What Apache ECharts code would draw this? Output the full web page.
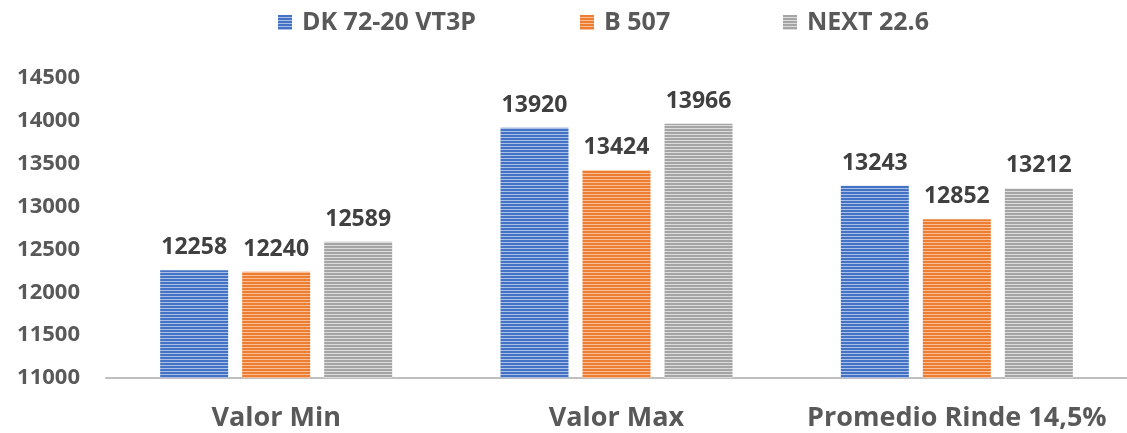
<!DOCTYPE html>
<html>
<head>
<meta charset="utf-8">
<script src="https://cdn.jsdelivr.net/npm/echarts@6/dist/echarts.min.js"></script>
<style>
  html, body { margin: 0; padding: 0; background: #fff; }
  #chart { width: 1127px; height: 433px; }
</style>
</head>
<body>
<div id="chart"></div>
<script>
var categories = ["Valor Min", "Valor Max", "Promedio Rinde 14,5%"];
var seriesNames = ["DK 72-20 VT3P", "B 507", "NEXT 22.6"];
var dkValues = [12258, 13920, 13243];
var bValues = [12240, 13424, 12852];
var nextValues = [12589, 13966, 13212];

var FONT = "'Open Sans', sans-serif";
var legendLeft = [273, 575, 778];

// horizontal stripes like the excel fill
var stripes = function (dark, light) {
  var c = document.createElement("canvas");
  c.width = 4;
  c.height = 3;
  var ctx = c.getContext("2d");
  ctx.fillStyle = light;
  ctx.fillRect(0, 0, 4, 3);
  ctx.fillStyle = dark;
  ctx.fillRect(0, 0, 4, 2);
  return { image: c, repeat: "repeat" };
};

var fills = [
  stripes("#4472C4", "#A9BFE6"),
  stripes("#ED7D31", "#F7BE98"),
  stripes("#A5A5A5", "#DCDCDC"),
];

var makeSeries = function (name, values, idx) {
  return {
    name: name,
    type: "bar",
    data: values,
    barWidth: 68,
    barGap: "20.6%",
    itemStyle: { color: fills[idx] },
    label: {
      show: true,
      position: "top",
      distance: 11,
      color: "#404040",
      fontFamily: FONT,
      fontWeight: "bold",
      fontSize: 23,
    },
  };
};

// one legend per series so each item sits where excel put it
var legends = seriesNames.map(function (name, i) {
  return {
    top: 5,
    left: legendLeft[i],
    itemWidth: 14,
    itemHeight: 15,
    icon: "rect",
    textStyle: {
      color: "#595959",
      fontFamily: FONT,
      fontWeight: "bold",
      fontSize: 25,
      padding: [0, 0, 0, 5],
    },
    data: [name],
  };
});

var myChart = echarts.init(document.getElementById("chart"));

myChart.setOption({
  backgroundColor: "#fff",
  animation: false,
  legend: legends,
  grid: { left: 106, right: -11, top: 78, bottom: 55 },
  xAxis: {
    type: "category",
    data: categories,
    axisTick: { show: false },
    axisLine: { lineStyle: { color: "#BFBFBF", width: 2 } },
    axisLabel: {
      interval: 0,
      margin: 27,
      color: "#595959",
      fontFamily: FONT,
      fontWeight: "bold",
      fontSize: 27,
    },
  },
  yAxis: {
    type: "value",
    min: 11000,
    max: 14500,
    interval: 500,
    splitLine: { show: false },
    axisLine: { show: false },
    axisTick: { show: false },
    axisLabel: {
      margin: 26,
      color: "#595959",
      fontFamily: FONT,
      fontWeight: "bold",
      fontSize: 22,
      formatter: function (v) { return String(v); },
    },
  },
  series: [
    makeSeries(seriesNames[0], dkValues, 0),
    makeSeries(seriesNames[1], bValues, 1),
    makeSeries(seriesNames[2], nextValues, 2),
  ],
});
</script>
</body>
</html>
